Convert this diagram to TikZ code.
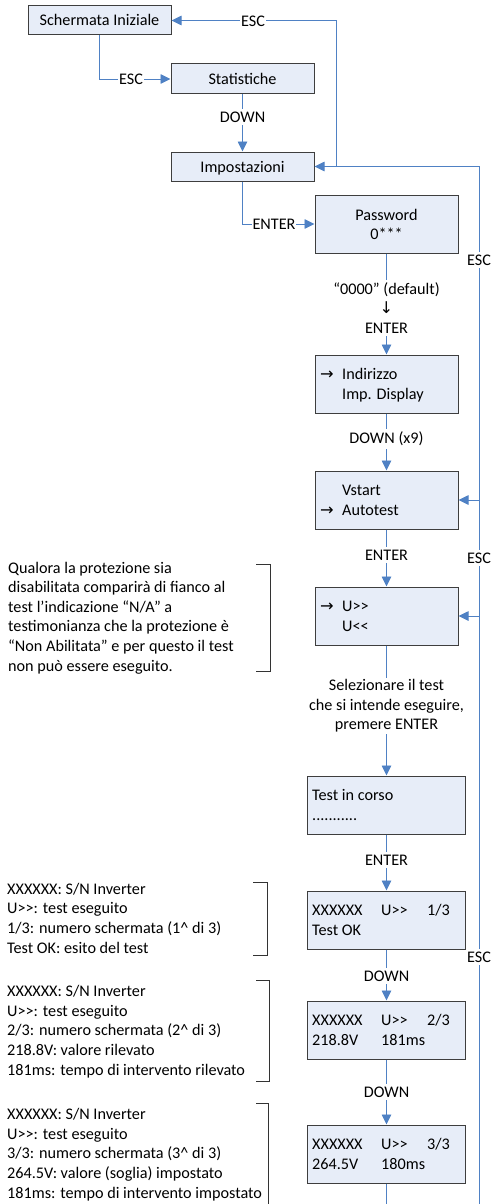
\documentclass[tikz,border=0pt]{standalone}
\usepackage{fontspec}
\setmainfont{Carlito}[Ligatures=TeXOff]
\newfontfamily\symf{DejaVu Sans}
\usetikzlibrary{arrows.meta}
\definecolor{boxfill}{RGB}{231,237,248}
\definecolor{boxline}{RGB}{62,62,62}
\definecolor{conn}{RGB}{79,129,196}
\newcommand\rarr{{\symf →}}
\begin{document}
\begin{tikzpicture}[x=1pt,y=-1pt,
  every node/.style={font=\fontsize{16.2}{19.6}\selectfont},
  scr/.style={draw=boxline, fill=boxfill, line width=1pt, minimum width=143pt, minimum height=58pt, inner sep=0pt},
  scrw/.style={scr, minimum width=158pt},
  ctxt/.style={anchor=base, inner sep=0pt},
  ltxt/.style={anchor=base west, inner sep=0pt},
  cn/.style={draw=conn, line width=0.9pt, -{Triangle[length=10pt,width=9.5pt]}},
  cnl/.style={draw=conn, line width=0.9pt},
  lbl/.style={fill=white, inner xsep=1pt, inner ysep=2.5pt},
  note/.style={align=left, anchor=base west, inner sep=0pt},
  brk/.style={draw=black!80, line width=0.9pt}
]
\useasboundingbox (0,0) rectangle (491,1204);

% screens
\node[scr, minimum height=29pt] (si) at (99.5,20.5) {};
\node[scr, minimum height=30pt] (stat) at (242.5,79) {};
\node[scr, minimum height=29pt] (imp) at (242.5,166.5) {};
\node[scr] (pw) at (386.5,224) {};
\node[scr] (ind) at (386.5,384) {};
\node[scr] (vs) at (386.5,500) {};
\node[scr] (uu) at (386.5,616) {};
\node[scrw] (tic) at (386.5,805) {};
\node[scrw] (t1) at (386.5,920) {};
\node[scrw] (t2) at (386.5,1030) {};
\node[scrw] (t3) at (386.5,1154) {};

% screen texts
\node[ctxt] (si-a) at (99.5,26) {Schermata Iniziale};
\node[ctxt] (stat-a) at (242.5,84.5) {Statistiche};
\node[ctxt] (imp-a) at (242.5,172) {Impostazioni};
\node[ctxt] (pw-a) at (386.5,220) {Password};
\node[ctxt] (pw-b) at (386.5,239.5) {0***};
\node[ltxt] (ind-r) at (320,379.5) {\rarr};
\node[ltxt] (ind-a) at (342,379.5) {Indirizzo};
\node[ltxt] (ind-b) at (342,399) {Imp. Display};
\node[ltxt] (vs-a) at (342,495.5) {Vstart};
\node[ltxt] (vs-r) at (320,515) {\rarr};
\node[ltxt] (vs-b) at (342,515) {Autotest};
\node[ltxt] (uu-r) at (320,611.5) {\rarr};
\node[ltxt] (uu-a) at (342,611.5) {U>>};
\node[ltxt] (uu-b) at (342,631) {U<<};
\node[ltxt] (tic-a) at (312,800.5) {Test in corso};
\node[ltxt] (tic-b) at (312,820) {...........};
\node[ltxt] (t1-a) at (312,915.5) {XXXXXX};
\node[ltxt] (t1-b) at (381,915.5) {U>>};
\node[ltxt] (t1-c) at (427,915.5) {1/3};
\node[ltxt] (t1-d) at (312,935) {Test OK};
\node[ltxt] (t2-a) at (312,1025.5) {XXXXXX};
\node[ltxt] (t2-b) at (381,1025.5) {U>>};
\node[ltxt] (t2-c) at (427,1025.5) {2/3};
\node[ltxt] (t2-d) at (312,1045) {218.8V};
\node[ltxt] (t2-e) at (381,1045) {181ms};
\node[ltxt] (t3-a) at (312,1149.5) {XXXXXX};
\node[ltxt] (t3-b) at (381,1149.5) {U>>};
\node[ltxt] (t3-c) at (427,1149.5) {3/3};
\node[ltxt] (t3-d) at (312,1169) {264.5V};
\node[ltxt] (t3-e) at (381,1169) {180ms};

% connectors
\coordinate (j1) at (336,166.5);
\coordinate (rb) at (479,1204);
\coordinate (j2) at (479,500);
\coordinate (j3) at (479,616);
\coordinate (bot) at (386.5,1204);
\draw[cn] (si) |- (stat);
\draw[cn] (j1) |- (si);
\draw[cn] (stat) -- (imp);
\draw[cn] (imp) |- (pw);
\draw[cn] (pw) -- (ind);
\draw[cn] (ind) -- (vs);
\draw[cn] (vs) -- (uu);
\draw[cn] (uu) -- (tic);
\draw[cn] (tic) -- (t1);
\draw[cn] (t1) -- (t2);
\draw[cn] (t2) -- (t3);
\draw[cnl] (t3) -- (bot);
\draw[cn] (rb) |- (imp);
\draw[cn] (j2) -- (vs);
\draw[cn] (j3) -- (uu);

% connector labels
\node[lbl] (l1) at (131,79) {ESC};
\node[lbl] (l2) at (253,21) {ESC};
\node[lbl] (l3) at (242.5,117) {DOWN};
\node[lbl] (l4) at (274,224) {ENTER};
\node[lbl, align=center] (l5) at (386.5,308) {“0000” (default)\\{\symf ↓}\\ENTER};
\node[lbl] (l6) at (386.5,439) {DOWN (x9)};
\node[lbl] (l7) at (386.5,555) {ENTER};
\node[lbl, align=center, inner ysep=1pt] (l8) at (386.5,706) {Selezionare il test\\che si intende eseguire,\\premere ENTER};
\node[lbl] (l9) at (386.5,860) {ENTER};
\node[lbl] (l10) at (386.5,976) {DOWN};
\node[lbl] (l11) at (386.5,1092) {DOWN};
\node[lbl] (e1) at (479,260) {ESC};
\node[lbl] (e2) at (479,558) {ESC};
\node[lbl] (e3) at (479,957) {ESC};

% notes (anchored at the baseline of their last line)
\node[note] (n1) at (8,671) {Qualora la protezione sia\\disabilitata comparirà di fianco al\\test l’indicazione “N/A” a\\testimonianza che la protezione è\\“Non Abilitata” e per questo il test\\non può essere eseguito.};
\node[note] (n2) at (7,953) {XXXXXX: S/N Inverter\\U>>: test eseguito\\1/3: numero schermata (1\^{} di 3)\\Test OK: esito del test};
\node[note] (n3) at (7,1075) {XXXXXX: S/N Inverter\\U>>: test eseguito\\2/3: numero schermata (2\^{} di 3)\\218.8V: valore rilevato\\181ms: tempo di intervento rilevato};
\node[note] (n4) at (7,1198) {XXXXXX: S/N Inverter\\U>>: test eseguito\\3/3: numero schermata (3\^{} di 3)\\264.5V: valore (soglia) impostato\\181ms: tempo di intervento impostato};

% brackets
\draw[brk] (256,564) -- (270,564) -- (270,671) -- (256,671);
\draw[brk] (253,882) -- (267,882) -- (267,955) -- (253,955);
\draw[brk] (256,980) -- (269,980) -- (269,1081) -- (256,1081);
\draw[brk] (256,1103) -- (268,1103) -- (268,1204);
\end{tikzpicture}
\end{document}
